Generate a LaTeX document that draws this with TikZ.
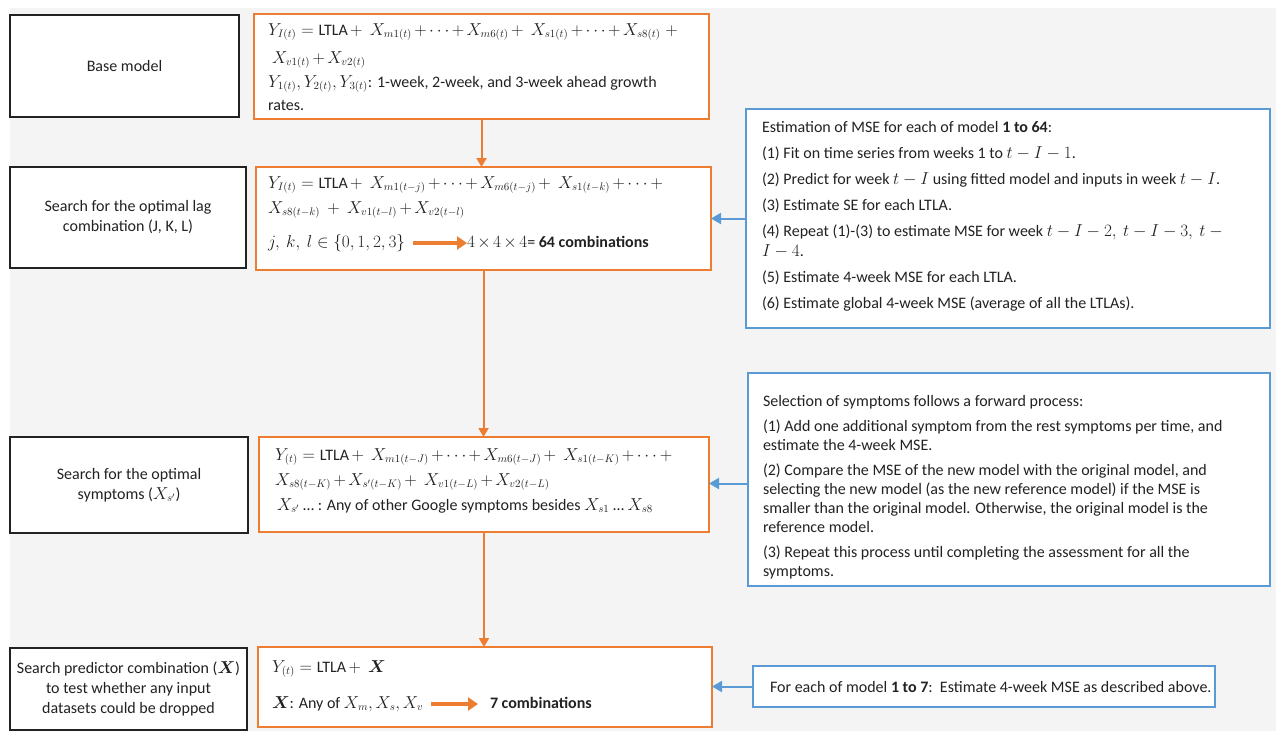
\documentclass[tikz,border=0pt]{standalone}
\usepackage{amsmath,amssymb,bm}
\usepackage{fontspec}
\setmainfont{Carlito}
\usetikzlibrary{arrows.meta}
\definecolor{ora}{HTML}{ED7D31}
\definecolor{blu}{HTML}{5B9BD5}
\definecolor{bg}{HTML}{F4F4F4}
\definecolor{ink}{HTML}{222222}
\begin{document}
\begin{tikzpicture}[x=1pt,y=-1pt,
  every node/.style={inner sep=0pt, outer sep=0pt, text=ink, font=\fontsize{16}{20}\selectfont},
  lbox/.style={draw=ink, line width=1.4pt, fill=white, anchor=north west, align=center},
  obox/.style={draw=ora, line width=2pt, fill=white, anchor=north west},
  bbox/.style={draw=blu, line width=1.5pt, fill=white, anchor=north west},
  txt/.style={anchor=base west, execute at begin node={\medmuskip=2.5mu plus 1mu minus 1mu}},
  btxt/.style={anchor=north west, align=left},
  oarr/.style={draw=ora, line width=2pt, -{Triangle[length=9pt,width=10pt]}},
  barr/.style={draw=blu, line width=2pt, -{Triangle[length=10pt,width=11pt]}},
  fat/.style={draw=ora, line width=4.5pt, -{Triangle[length=10pt,width=13pt]}}
]
\useasboundingbox (0,0) rectangle (1276,731);
\fill[white] (0,0) rectangle (1276,731);
\fill[bg] (10,8) rectangle (1276,731);

% left boxes
\node[lbox, minimum width=229pt, minimum height=102pt] (base) at (10,15) {Base model};
\node[lbox, minimum width=236pt, minimum height=101pt] (lag) at (10,167) {Search for the optimal lag\\combination (J, K, L)};
\node[lbox, minimum width=238pt, minimum height=96pt] (sym) at (10,437) {Search for the optimal\\symptoms ($X_{s'}$)};
\node[lbox, minimum width=237pt, minimum height=82pt] (pred) at (10,648) {Search predictor combination ($\bm{X}$)\\to test whether any input\\datasets could be dropped};

% orange boxes
\node[obox, minimum width=455pt, minimum height=105pt] (o1) at (254,14) {};
\node[obox, minimum width=455pt, minimum height=103pt] (o2) at (256,167) {};
\node[obox, minimum width=450pt, minimum height=95pt] (o3) at (259,437) {};
\node[obox, minimum width=454pt, minimum height=80pt] (o4) at (258,647) {};

% blue boxes
\node[bbox, minimum width=524pt, minimum height=219pt] (b1) at (746,109) {};
\node[bbox, minimum width=522pt, minimum height=213pt] (b2) at (748,373) {};
\node[bbox, minimum width=462pt, minimum height=41pt] (b3) at (753,666) {};

% o1 text
\node[txt] (o1a) at (268,35) {$Y_{I(t)} = \text{LTLA} +\; X_{m1(t)} + \cdots + X_{m6(t)} +\; X_{s1(t)} + \cdots + X_{s8(t)}\; +$};
\node[txt] (o1b) at (272,63) {$X_{v1(t)} + X_{v2(t)}$};
\node[txt] (o1c) at (268,87) {$Y_{1(t)}, Y_{2(t)}, Y_{3(t)}$: 1-week, 2-week, and 3-week ahead growth};
\node[txt] (o1d) at (268,110) {rates.};

% o2 text
\node[txt] (o2a) at (268,188) {$Y_{I(t)} = \text{LTLA} +\; X_{m1(t-j)} + \cdots + X_{m6(t-j)} +\; X_{s1(t-k)} + \cdots +$};
\node[txt] (o2b) at (268,213) {$X_{s8(t-k)} \;+\; X_{v1(t-l)} + X_{v2(t-l)}$};
\node[txt] (o2c) at (268,247) {$j,\ k,\ l \in \{0,1,2,3\}$};
\node[txt] (o2d) at (467,247) {$4\times4\times4$= \textbf{64 combinations}};
\draw[fat] ([xshift=8pt,yshift=4pt]o2c.base east) -- ([yshift=4pt]o2d.base west);

% o3 text
\node[txt] (o3a) at (275,460) {$Y_{(t)} = \text{LTLA} +\; X_{m1(t-J)} + \cdots + X_{m6(t-J)} +\; X_{s1(t-K)} + \cdots +$};
\node[txt] (o3b) at (275,485) {$X_{s8(t-K)} + X_{s'(t-K)} +\; X_{v1(t-L)} + X_{v2(t-L)}$};
\node[txt] (o3c) at (277,510) {$X_{s'}$ \ldots{} : Any of other Google symptoms besides $X_{s1}$ \ldots{} $X_{s8}$};

% o4 text
\node[txt] (o4a) at (272,672) {$Y_{(t)} = \text{LTLA} +\; \bm{X}$};
\node[txt] (o4b) at (272,708) {$\bm{X}$: Any of $X_m, X_s, X_v$};
\node[txt] (o4c) at (490,708) {\textbf{7 combinations}};
\draw[fat] ([xshift=8pt,yshift=4pt]o4b.base east) -- ([xshift=-12pt,yshift=4pt]o4c.base west);

% blue text
\node[btxt] (b1t) at (762,121) {Estimation of MSE for each of model \textbf{1 to 64}:\\[6pt]
(1) Fit on time series from weeks 1 to $t-I-1$.\\[6pt]
(2) Predict for week $t-I$ using fitted model and inputs in week $t-I$.\\[6pt]
(3) Estimate SE for each LTLA.\\[6pt]
(4) Repeat (1)-(3) to estimate MSE for week $t-I-2,\ t-I-3,\ t-{}$\\
$I-4$.\\[6pt]
(5) Estimate 4-week MSE for each LTLA.\\[6pt]
(6) Estimate global 4-week MSE (average of all the LTLAs).};

\node[btxt, font=\fontsize{16}{19}\selectfont] (b2t) at (763,395) {Selection of symptoms follows a forward process:\\[6pt]
(1) Add one additional symptom from the rest symptoms per time, and\\
estimate the 4-week MSE.\\[6pt]
(2) Compare the MSE of the new model with the original model, and\\
selecting the new model (as the new reference model) if the MSE is\\
smaller than the original model. Otherwise, the original model is the\\
reference model.\\[6pt]
(3) Repeat this process until completing the assessment for all the\\
symptoms.};

\node[txt] (b3t) at (770,692) {For each of model \textbf{1 to 7}:\ \ Estimate 4-week MSE as described above.};

% connectors
\draw[oarr] (o1.south) -- (o1.south |- o2.north);
\draw[oarr] (o2.south) -- (o2.south |- o3.north);
\draw[oarr] (o3.south) -- (o3.south |- o4.north);
\draw[barr] (b1.west) -- (b1.west -| o2.east);
\draw[barr] ([yshift=-4pt]b2.west) -- ([yshift=-4pt]b2.west -| o3.east);
\draw[barr] (b3.west) -- (b3.west -| o4.east);
\end{tikzpicture}
\end{document}
